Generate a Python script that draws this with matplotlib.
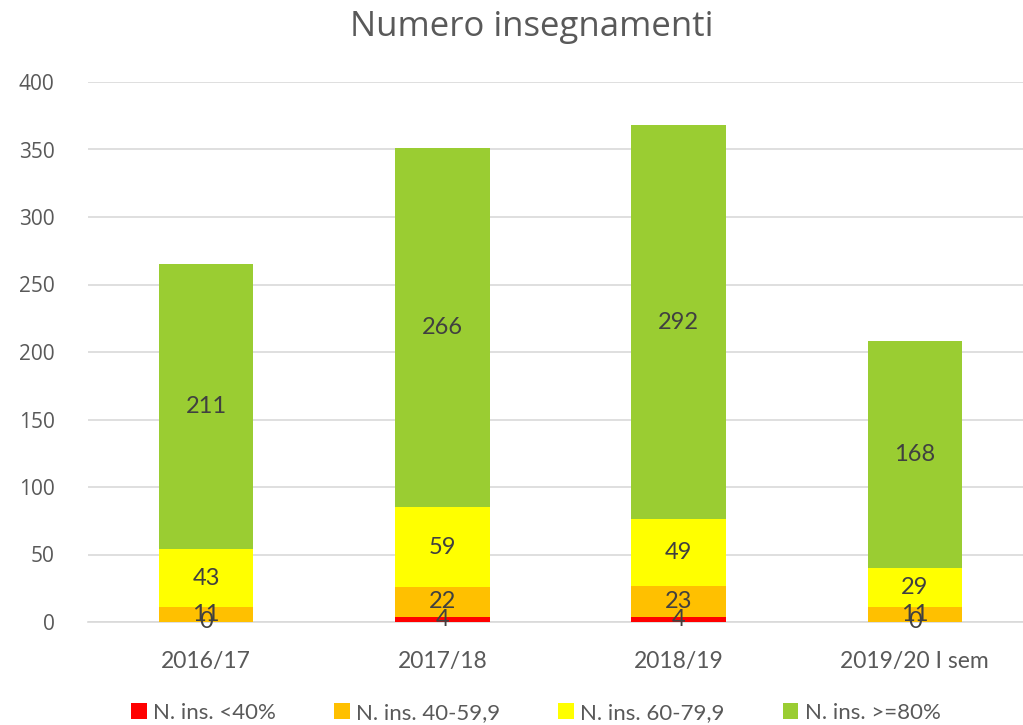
import matplotlib.pyplot as plt
import numpy as np

categories = ["2016/17", "2017/18", "2018/19", "2019/20 I sem"]
series_names = ["N. ins. <40%", "N. ins. 40-59,9", "N. ins. 60-79,9", "N. ins. >=80%"]
below_40 = [0, 4, 4, 0]
from_40_to_60 = [11, 22, 23, 11]
from_60_to_80 = [43, 59, 49, 29]
above_80 = [211, 266, 292, 168]
colors = ["#FF0000", "#FFC000", "#FFFF00", "#9ACD32"]

TEXT_COLOR = "#404040"
TICK_COLOR = "#595959"

fig = plt.figure(figsize=(10.23, 7.25), dpi=100)
ax = fig.add_axes([88 / 1023, 103 / 725, 945 / 1023, 540 / 725])

x = np.arange(len(categories))
bottom = np.zeros(len(categories))
for name, values, col in zip(series_names, [below_40, from_40_to_60, from_60_to_80, above_80], colors):
    vals = np.array(values, dtype=float)
    ax.bar(x, vals, width=0.4, bottom=bottom, color=col, label=name, zorder=3)
    for xi, b, v in zip(x, bottom, vals):
        ax.text(xi, b + v / 2, f"{int(v)}", ha="center", va="center",
                fontsize=17, color=TEXT_COLOR, family="Lato", zorder=4)
    bottom += vals

ax.set_xlim(-0.5, len(categories) - 0.5)
ax.set_ylim(0, 400)
ax.set_yticks(range(0, 401, 50))
ax.yaxis.grid(True, color="#D9D9D9", linewidth=1.2, zorder=0)
ax.set_axisbelow(True)
for s in ["top", "right", "left"]:
    ax.spines[s].set_visible(False)
ax.spines["bottom"].set_color("#D9D9D9")
ax.spines["bottom"].set_linewidth(1.2)
ax.tick_params(axis="both", length=0)
ax.tick_params(axis="y", pad=24)
ax.tick_params(axis="x", pad=21)
ax.set_xticks(x)
ax.set_xticklabels(categories, fontsize=16.5, color=TICK_COLOR, family="Lato")
for lbl in ax.get_yticklabels():
    lbl.set_fontsize(15)
    lbl.set_color(TICK_COLOR)
    lbl.set_family("Open Sans")

fig.text(532 / 1023, 1 - 27 / 725, "Numero insegnamenti", ha="center", va="center",
         fontsize=25, color=TICK_COLOR, family="Open Sans")

leg = fig.legend(loc="center", bbox_to_anchor=(536 / 1023, 1 - 713 / 725), ncol=4,
                 frameon=False, handlelength=0.7, handleheight=0.7,
                 handletextpad=0.3, columnspacing=2.6, prop={"family": "Lato", "size": 16})
for t in leg.get_texts():
    t.set_color(TICK_COLOR)

plt.savefig("out.png", dpi=100)
